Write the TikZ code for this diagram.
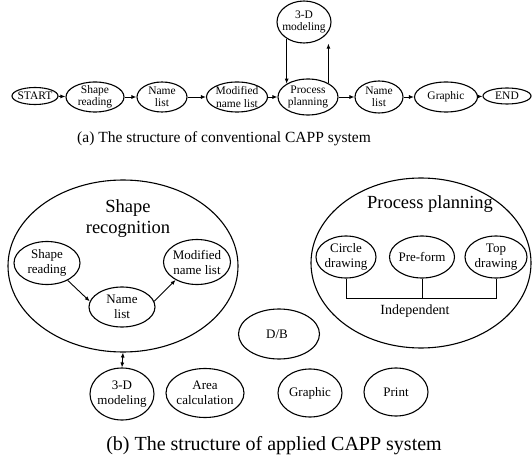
\documentclass[tikz,border=0pt]{standalone}
\usepackage{fontspec}
\setmainfont{Liberation Serif}
\usetikzlibrary{shapes.geometric,arrows.meta}
\begin{document}
\begin{tikzpicture}[x=1pt,y=-1pt,
  ell/.style={ellipse,draw,line width=1.1pt,inner sep=0pt},
  ta/.style={font=\fontsize{11.5}{12.5}\selectfont,align=center,inner sep=0pt},
  tb/.style={font=\fontsize{13}{15}\selectfont,align=center,inner sep=0pt},
  big/.style={font=\fontsize{18.5}{21}\selectfont,align=center,inner sep=0pt},
  captext/.style={inner sep=0pt},
  arr/.style={line width=0.9pt,-{Latex[length=5pt,width=4pt]}},
  dbl/.style={line width=0.9pt,{Latex[length=5pt,width=4pt]}-{Latex[length=5pt,width=4pt]}},
  ln/.style={line width=0.9pt}]
\useasboundingbox (0,0) rectangle (532,462);
% ---------- (a) ----------
\node[ell,minimum width=46pt,minimum height=17pt] (start) at (35,96) {};
\node[ta] at (start) {START};
\node[ell,minimum width=58pt,minimum height=30pt] (sr) at (95,97) {};
\node[ta] at (sr) {Shape\\reading};
\node[ell,minimum width=50pt,minimum height=30pt] (nl) at (162,97) {};
\node[ta] at (nl) {Name\\list};
\node[ell,minimum width=61pt,minimum height=30pt] (mnl) at (237,97) {};
\node[ta] at (mnl) {Modified\\name list};
\node[ell,minimum width=60pt,minimum height=36pt] (pp) at (308,97) {};
\node[ta] at (pp) {Process\\planning};
\node[ell,minimum width=54pt,minimum height=42pt] (m3d) at (304,22) {};
\node[ta] at (m3d) {3-D\\modeling};
\node[ell,minimum width=48pt,minimum height=32pt] (nl3) at (379,97) {};
\node[ta] at (nl3) {Name\\list};
\node[ell,minimum width=63pt,minimum height=30pt] (gr) at (446,97) {};
\node[ta] at (gr) {Graphic};
\node[ell,minimum width=48pt,minimum height=16pt] (end) at (507,96) {};
\node[ta] at (end) {END};
\draw[arr] (start) -- (sr);
\draw[arr] (sr) -- (nl);
\draw[arr] (nl) -- (mnl);
\draw[arr] (mnl) -- (pp);
\draw[arr] (pp) -- (nl3);
\draw[arr] (nl3) -- (gr);
\draw[arr] (gr) -- (end);
\draw[arr] (m3d.224) -- (m3d.224 |- pp.148);
\draw[arr] (pp.34) -- (pp.34 |- m3d.south);
\node[captext,font=\fontsize{15.5}{18}\selectfont] (capa) at (224,139) {(a) The structure of conventional CAPP system};
% ---------- (b) ----------
\node[ell,minimum width=230pt,minimum height=172pt] (bsr) at (123,266) {};
\node[big] at (128,219) {Shape\\recognition};
\node[ell,minimum width=66pt,minimum height=43pt] (sr2) at (47,263) {};
\node[tb] at (sr2) {Shape\\reading};
\node[ell,minimum width=67pt,minimum height=45pt] (mnl2) at (197,262) {};
\node[tb] at (mnl2) {Modified\\name list};
\node[ell,minimum width=66pt,minimum height=40pt] (nl2) at (122,307) {};
\node[tb] at (nl2) {Name\\list};
\draw[arr] (sr2.-40) -- (nl2.170);
\draw[arr] (nl2.10) -- (mnl2.220);
\node[ell,minimum width=220pt,minimum height=170pt] (bpp) at (421,263) {};
\node[big] at (430,204) {Process planning};
\node[ell,minimum width=60pt,minimum height=42pt] (cd) at (346,257) {};
\node[tb] at (cd) {Circle\\drawing};
\node[ell,minimum width=65pt,minimum height=42pt] (pf) at (422,257) {};
\node[tb] at (pf) {Pre-form};
\node[ell,minimum width=62pt,minimum height=42pt] (td) at (496,257) {};
\node[tb] at (td) {Top\\drawing};
\coordinate (ind) at (0,298);
\draw[ln] (cd.south) -- (cd.south |- ind) -- (td.south |- ind) -- (td.south);
\draw[ln] (pf.south) -- (pf.south |- ind);
\node[font=\fontsize{14}{16}\selectfont,inner sep=0pt] at (415,311) {Independent};
\node[ell,minimum width=81pt,minimum height=50pt] (db) at (279,334) {};
\node[tb] at (277,334) {D/B};
\node[ell,minimum width=64pt,minimum height=52pt] (m3d2) at (122,394) {};
\node[tb] at (m3d2) {3-D\\modeling};
\node[ell,minimum width=78pt,minimum height=49pt] (ac) at (205,393) {};
\node[tb] at (ac) {Area\\calculation};
\node[ell,minimum width=64pt,minimum height=48pt] (gr2) at (310,393) {};
\node[tb] at (gr2) {Graphic};
\node[ell,minimum width=64pt,minimum height=48pt] (pr) at (396,392) {};
\node[tb] at (pr) {Print};
\draw[dbl] (bsr.south) -- (m3d2.north);
\node[captext,font=\fontsize{20}{24}\selectfont] (capb) at (274,446) {(b) The structure of applied CAPP system};
\end{tikzpicture}
\end{document}
